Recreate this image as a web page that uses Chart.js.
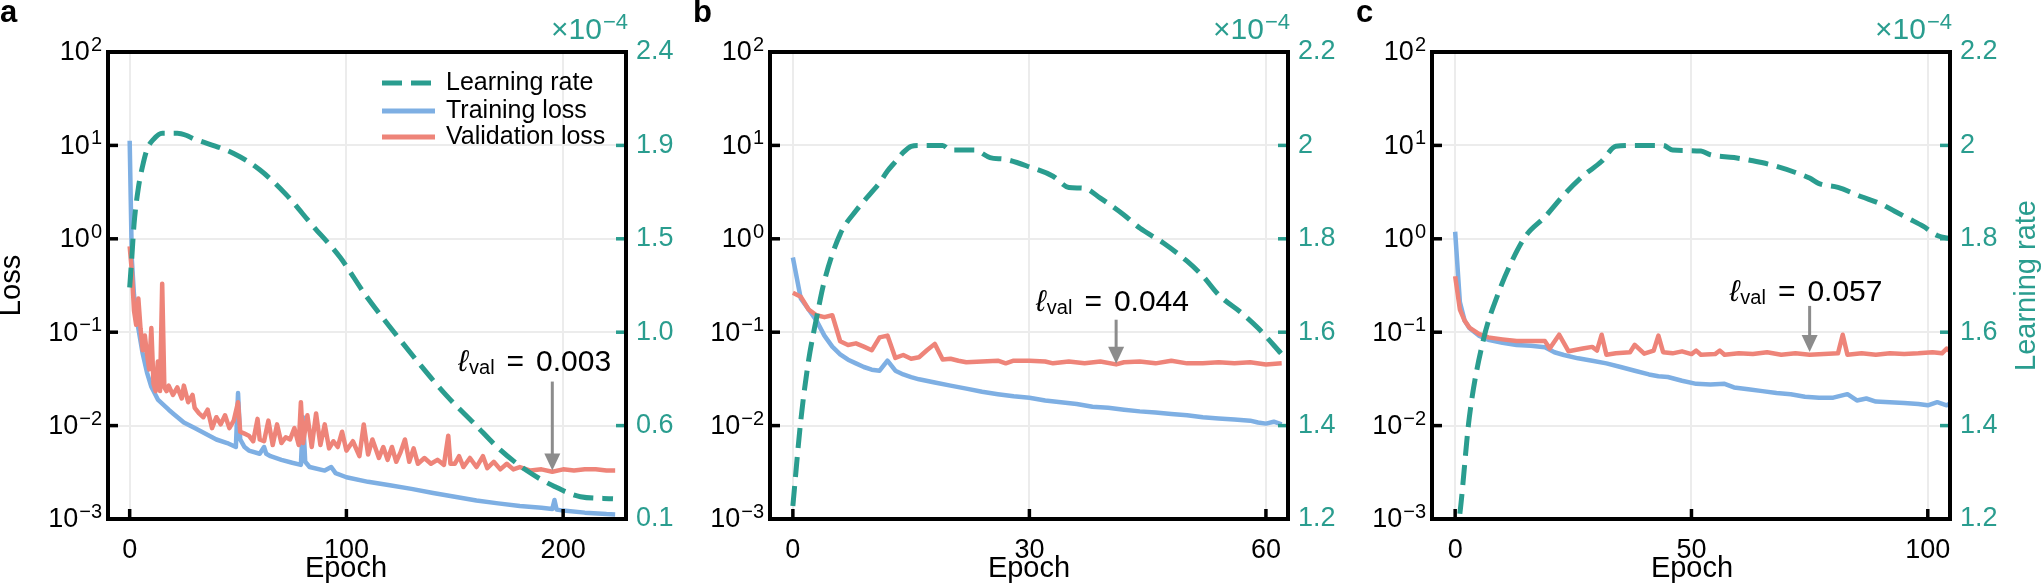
<!DOCTYPE html>
<html>
<head>
<meta charset="utf-8">
<script src="https://cdn.jsdelivr.net/npm/chart.js@4.4.0/dist/chart.umd.min.js"></script>
<style>
  html, body { margin: 0; padding: 0; background: #fff; }
  body { width: 2044px; height: 584px; position: relative; overflow: hidden; }
  canvas { position: absolute; top: 0; }
</style>
</head>
<body>
<canvas id="chart-a" width="700" height="584" style="left:0px"></canvas>
<canvas id="chart-b" width="700" height="584" style="left:662px"></canvas>
<canvas id="chart-c" width="720" height="584" style="left:1324px"></canvas>
<script>
const FONT = '"Liberation Sans", "DejaVu Sans", sans-serif';
const TEAL = "#2a9d8f";
const BLUE = "#7eafe3";
const RED = "#ee8479";
const GRID = "#ececec";
const ARROW = "#8c8c8c";

// ---- data (learning rate in units of 1e-4) ----
const lossTicks = [1e-3, 1e-2, 1e-1, 1, 10, 100];
const lossTickExps = ["\u22123", "\u22122", "\u22121", "0", "1", "2"];

// panel a
const xTicksA = [0, 100, 200];
const lrTicksA = [0.1, 0.56, 1.02, 1.48, 1.94, 2.4];
const lrTickLabelsA = ["0.1", "0.6", "1.0", "1.5", "1.9", "2.4"];
const epochsLrA = [0, 1, 2, 4, 6, 8, 11, 15, 18, 22, 26, 30, 33, 48, 60, 72, 84, 97, 109, 122, 134, 146, 159, 171, 183, 196, 208, 223];
const lrA = [1.24, 1.39, 1.55, 1.73, 1.84, 1.92, 1.97, 2.0, 2.0, 2.0, 1.99, 1.97, 1.96, 1.90, 1.82, 1.70, 1.55, 1.39, 1.20, 1.02, 0.86, 0.71, 0.57, 0.44, 0.34, 0.26, 0.21, 0.20];
const epochsTrainA = [0, 1, 2, 3, 4, 6, 8, 10, 13, 18, 20, 25, 30, 35, 40, 45, 49, 50, 51, 53, 55, 60, 62, 63, 65, 70, 75, 79, 80, 81, 83, 90, 93, 95, 100, 110, 120, 130, 140, 150, 160, 170, 180, 190, 195, 196, 197, 200, 210, 220, 224];
const trainA = [11.2, 0.6, 0.25, 0.15, 0.11, 0.059, 0.037, 0.026, 0.019, 0.0148, 0.0135, 0.0108, 0.0094, 0.0082, 0.0071, 0.0065, 0.0059, 0.0223, 0.0071, 0.0059, 0.0054, 0.0050, 0.0059, 0.0050, 0.0047, 0.0043, 0.0040, 0.0038, 0.0123, 0.0041, 0.0036, 0.0033, 0.0036, 0.0031, 0.0028, 0.0025, 0.0023, 0.0021, 0.0019, 0.00173, 0.00158, 0.00147, 0.00138, 0.00132, 0.00128, 0.0016, 0.00126, 0.00123, 0.00117, 0.00113, 0.00112];
const epochsValA = [0, 1, 2, 3, 4, 5, 6, 7, 8, 9, 10, 11, 12, 13, 14, 15, 16, 17, 18, 20, 22, 24, 25, 27, 29, 30, 32, 34, 36, 38, 40, 42, 44, 46, 48, 50, 51, 53, 55, 57, 59, 60, 62, 64, 66, 68, 70, 72, 74, 76, 78, 79, 80, 82, 84, 86, 88, 90, 92, 94, 96, 98, 100, 103, 106, 108, 110, 112, 115, 117, 119, 121, 123, 125, 127, 129, 131, 133, 136, 139, 142, 145, 147, 148, 150, 152, 154, 157, 160, 163, 165, 168, 171, 174, 177, 180, 185, 190, 195, 200, 205, 210, 215, 220, 224];
const valA = [0.83, 0.45, 0.17, 0.12, 0.23, 0.11, 0.064, 0.092, 0.058, 0.040, 0.111, 0.028, 0.0234, 0.0486, 0.0234, 0.331, 0.0256, 0.0234, 0.0268, 0.0213, 0.0256, 0.0195, 0.0268, 0.0178, 0.0213, 0.0155, 0.0135, 0.0123, 0.0148, 0.0094, 0.0123, 0.0103, 0.0129, 0.0094, 0.0113, 0.0178, 0.0086, 0.0082, 0.0078, 0.0068, 0.0118, 0.0071, 0.0068, 0.0113, 0.0062, 0.0103, 0.0065, 0.0075, 0.0071, 0.0094, 0.0062, 0.0178, 0.0065, 0.0129, 0.0059, 0.0135, 0.0062, 0.0103, 0.0057, 0.0068, 0.0059, 0.0086, 0.0054, 0.0068, 0.0047, 0.0103, 0.0049, 0.0071, 0.0045, 0.0059, 0.0043, 0.0059, 0.0041, 0.0052, 0.0071, 0.0041, 0.0057, 0.0039, 0.0045, 0.0039, 0.0043, 0.0038, 0.0078, 0.0039, 0.0039, 0.0047, 0.0036, 0.0045, 0.0036, 0.0047, 0.0035, 0.0041, 0.0034, 0.0039, 0.0034, 0.0036, 0.0033, 0.0034, 0.0032, 0.0034, 0.0033, 0.0034, 0.0034, 0.0033, 0.0033];

// panel b
const xTicksB = [0, 30, 60];
const lrTicksB = [1.2, 1.4, 1.6, 1.8, 2.0, 2.2];
const lrTickLabelsB = ["1.2", "1.4", "1.6", "1.8", "2", "2.2"];
const epochsLrB = [0, 1, 2, 3, 4, 6, 8, 10, 11, 12, 13, 14, 15, 16, 19, 20, 23, 25, 27, 30, 33, 35, 37, 39, 42, 44, 47, 50, 52, 54, 57, 59, 62];
const lrB = [1.228, 1.41, 1.54, 1.63, 1.71, 1.81, 1.86, 1.90, 1.92, 1.945, 1.965, 1.985, 1.998, 2.0, 2.0, 1.99, 1.99, 1.974, 1.97, 1.954, 1.934, 1.91, 1.908, 1.887, 1.851, 1.823, 1.791, 1.752, 1.72, 1.68, 1.64, 1.609, 1.553];
const epochsTrainB = [0, 1, 2, 3, 4, 5, 6, 7, 8, 9, 10, 11, 12, 13, 14, 15, 16, 18, 20, 22, 24, 26, 28, 30, 32, 34, 36, 38, 40, 42, 44, 46, 48, 50, 52, 54, 56, 58, 59, 60, 61, 62];
const trainB = [0.63, 0.23, 0.175, 0.133, 0.092, 0.070, 0.058, 0.0508, 0.0464, 0.0424, 0.0397, 0.0387, 0.0495, 0.0387, 0.0353, 0.0331, 0.0313, 0.0289, 0.0268, 0.0249, 0.0230, 0.0217, 0.0206, 0.0199, 0.0186, 0.0178, 0.0170, 0.0159, 0.0155, 0.0148, 0.0142, 0.0138, 0.0133, 0.0129, 0.0123, 0.0119, 0.0116, 0.0113, 0.0108, 0.0105, 0.0110, 0.0103];
const epochsValB = [0, 1, 2, 3, 4, 5, 6, 7, 8, 9, 10, 11, 12, 13, 14, 15, 16, 17, 18, 19, 20, 21, 22, 24, 26, 27, 28, 30, 32, 33, 35, 37, 39, 41, 42, 44, 46, 48, 50, 52, 54, 56, 58, 60, 62];
const valB = [0.264, 0.24, 0.175, 0.152, 0.145, 0.152, 0.080, 0.073, 0.076, 0.070, 0.064, 0.088, 0.092, 0.053, 0.057, 0.052, 0.054, 0.064, 0.075, 0.051, 0.052, 0.0495, 0.0477, 0.0486, 0.0495, 0.0464, 0.0495, 0.0495, 0.0486, 0.0464, 0.0486, 0.0464, 0.0486, 0.0452, 0.0477, 0.0486, 0.0464, 0.0495, 0.0464, 0.0464, 0.0477, 0.0464, 0.0477, 0.0452, 0.0464];

// panel c
const xTicksC = [0, 50, 100];
const lrTicksC = [1.2, 1.4, 1.6, 1.8, 2.0, 2.2];
const lrTickLabelsC = ["1.2", "1.4", "1.6", "1.8", "2", "2.2"];
const epochsLrC = [0, 1, 3, 6, 9, 12, 15, 19, 23, 27, 31, 34, 38, 44, 46, 52, 54, 59, 63, 67, 72, 75, 77, 81, 86, 90, 93, 96, 99, 102, 105];
const lrC = [1.15, 1.212, 1.418, 1.585, 1.680, 1.752, 1.807, 1.847, 1.894, 1.934, 1.966, 1.998, 2.0, 2.0, 1.99, 1.988, 1.98, 1.974, 1.967, 1.958, 1.942, 1.93, 1.918, 1.91, 1.89, 1.875, 1.859, 1.843, 1.827, 1.807, 1.80];
const epochsTrainC = [0, 1, 2, 3, 5, 7, 10, 13, 16, 19, 21, 23, 26, 29, 32, 35, 38, 41, 43, 45, 48, 51, 54, 57, 59, 62, 65, 68, 71, 74, 77, 80, 83, 85, 87, 89, 92, 95, 98, 100, 102, 104, 105];
const trainC = [1.19, 0.21, 0.133, 0.111, 0.092, 0.083, 0.077, 0.073, 0.0715, 0.069, 0.061, 0.057, 0.0525, 0.0495, 0.0464, 0.0424, 0.0387, 0.0353, 0.0337, 0.0331, 0.0302, 0.0280, 0.0275, 0.0280, 0.0256, 0.0245, 0.0234, 0.0223, 0.0217, 0.0204, 0.0199, 0.0199, 0.0217, 0.0186, 0.0195, 0.0181, 0.0178, 0.0175, 0.0170, 0.0165, 0.0178, 0.0165, 0.0175];
const epochsValC = [0, 1, 2, 3, 5, 7, 10, 13, 16, 19, 20, 22, 24, 27, 29, 30, 31, 32, 34, 37, 38, 40, 42, 43, 44, 46, 48, 50, 51, 52, 55, 56, 57, 60, 63, 66, 69, 72, 75, 78, 81, 82, 83, 86, 89, 92, 95, 98, 101, 103, 104, 105];
const valC = [0.397, 0.175, 0.133, 0.112, 0.096, 0.088, 0.0838, 0.0803, 0.0803, 0.0803, 0.0668, 0.094, 0.0624, 0.0668, 0.0696, 0.0636, 0.094, 0.0573, 0.0594, 0.0611, 0.0733, 0.0588, 0.0636, 0.092, 0.0611, 0.0594, 0.0624, 0.0583, 0.0636, 0.0573, 0.0583, 0.0636, 0.0573, 0.0594, 0.0583, 0.0611, 0.0573, 0.0594, 0.0573, 0.0583, 0.0594, 0.094, 0.0573, 0.0594, 0.0573, 0.0594, 0.0583, 0.0594, 0.0611, 0.0594, 0.0668, 0.0611];

function pairs(xs, ys) {
  return xs.map(function (x, i) {
    return { x: x, y: ys[i] };
  });
}

const panels = [
  {
    id: "chart-a", letter: "a", letterX: 0,
    xMin: -10, xMax: 229, xTicks: xTicksA,
    lrMin: 0.1, lrMax: 2.4, lrTicks: lrTicksA, lrTickLabels: lrTickLabelsA,
    lr: pairs(epochsLrA, lrA), train: pairs(epochsTrainA, trainA), val: pairs(epochsValA, valA),
    note: { epoch: 195, value: 0.0033, label: "0.003", len: 89, dx: -94, dy: -110 },
    epochX: 346, lossTitle: true, legend: true, lrTitle: false,
  },
  {
    id: "chart-b", letter: "b", letterX: 31,
    xMin: -2.9, xMax: 62.8, xTicks: xTicksB,
    lrMin: 1.2, lrMax: 2.2, lrTicks: lrTicksB, lrTickLabels: lrTickLabelsB,
    lr: pairs(epochsLrB, lrB), train: pairs(epochsTrainB, trainB), val: pairs(epochsValB, valB),
    note: { epoch: 41, value: 0.046, label: "0.044", len: 44, dx: -80, dy: -63 },
    epochX: 367, lossTitle: false, legend: false, lrTitle: false,
  },
  {
    id: "chart-c", letter: "c", letterX: 32,
    xMin: -4.9, xMax: 104.7, xTicks: xTicksC,
    lrMin: 1.2, lrMax: 2.2, lrTicks: lrTicksC, lrTickLabels: lrTickLabelsC,
    lr: pairs(epochsLrC, lrC), train: pairs(epochsTrainC, trainC), val: pairs(epochsValC, valC),
    note: { epoch: 75, value: 0.0615, label: "0.057", len: 46, dx: -80, dy: -61 },
    epochX: 368, lossTitle: false, legend: false, lrTitle: true,
  },
];

const AREA_LEFT = 108;
const AREA_RIGHT = 626;
const AREA_TOP = 52;
const AREA_BOTTOM = 519;
const TICK = 10;

function hline(ctx, x1, y1, x2, y2) {
  ctx.beginPath();
  ctx.moveTo(x1, y1);
  ctx.lineTo(x2, y2);
  ctx.stroke();
}

function drawPower(ctx, xRight, yMid, base, exp, color, baseSize, expSize) {
  ctx.fillStyle = color;
  ctx.textAlign = "right";
  ctx.textBaseline = "alphabetic";
  ctx.font = expSize + "px " + FONT;
  ctx.fillText(exp, xRight, yMid - 1);
  const w = ctx.measureText(exp).width;
  ctx.font = baseSize + "px " + FONT;
  ctx.textBaseline = "middle";
  ctx.fillText(base, xRight - w - 1, yMid + 1);
}

function drawNote(ctx, chart, note) {
  const x = chart.scales.x.getPixelForValue(note.epoch);
  const tip = chart.scales.y.getPixelForValue(note.value);
  ctx.strokeStyle = ARROW;
  ctx.fillStyle = ARROW;
  ctx.lineWidth = 3;
  hline(ctx, x, tip - note.len, x, tip - 14);
  ctx.beginPath();
  ctx.moveTo(x - 8, tip - 17);
  ctx.lineTo(x + 8, tip - 17);
  ctx.lineTo(x, tip);
  ctx.closePath();
  ctx.fill();

  const ty = tip + note.dy + 10;
  let cx = x + note.dx;
  ctx.fillStyle = "#000";
  ctx.textAlign = "left";
  ctx.textBaseline = "alphabetic";
  ctx.font = "italic 30px " + FONT;
  ctx.fillText("\u2113", cx, ty);
  cx += ctx.measureText("\u2113").width + 1;
  ctx.font = "20px " + FONT;
  ctx.fillText("val", cx, ty + 3);
  cx += ctx.measureText("val").width + 12;
  ctx.font = "30px " + FONT;
  ctx.fillText("=", cx, ty);
  cx += ctx.measureText("=").width + 12;
  ctx.fillText(note.label, cx, ty);
}

function drawLegend(ctx) {
  const rows = [
    { label: "Learning rate", color: TEAL, dash: [20, 9], y: 83 },
    { label: "Training loss", color: BLUE, dash: [], y: 111 },
    { label: "Validation loss", color: RED, dash: [], y: 137 },
  ];
  rows.forEach(function (row) {
    ctx.strokeStyle = row.color;
    ctx.lineWidth = 5;
    ctx.setLineDash(row.dash);
    hline(ctx, 382, row.y, 435, row.y);
    ctx.setLineDash([]);
    ctx.fillStyle = "#000";
    ctx.font = "25px " + FONT;
    ctx.textAlign = "left";
    ctx.textBaseline = "middle";
    ctx.fillText(row.label, 446, row.y);
  });
}

function decor(p) {
  return {
    id: "decor",
    afterDraw: function (chart) {
      const ctx = chart.ctx;
      const a = chart.chartArea;
      const xS = chart.scales.x;
      const yS = chart.scales.y;
      const rS = chart.scales.y1;
      ctx.save();
      ctx.lineCap = "butt";

      // inward tick marks
      ctx.strokeStyle = "#000";
      ctx.lineWidth = 3.5;
      lossTicks.forEach(function (v) {
        const py = yS.getPixelForValue(v);
        hline(ctx, a.left, py, a.left + TICK, py);
      });
      p.xTicks.forEach(function (v) {
        const px = xS.getPixelForValue(v);
        hline(ctx, px, a.bottom, px, a.bottom - TICK);
      });
      ctx.strokeStyle = TEAL;
      p.lrTicks.forEach(function (v) {
        const py = rS.getPixelForValue(v);
        hline(ctx, a.right - TICK, py, a.right, py);
      });

      // frame
      ctx.strokeStyle = "#000";
      ctx.lineWidth = 4;
      ctx.strokeRect(a.left, a.top, a.right - a.left, a.bottom - a.top);

      // log tick labels with superscripts
      lossTicks.forEach(function (v, i) {
        drawPower(ctx, a.left - 6, yS.getPixelForValue(v), "10", lossTickExps[i], "#000", 27, 20);
      });

      // offset text of the learning-rate axis
      drawPower(ctx, a.right + 2, 30, "\u00d710", "\u22124", TEAL, 30, 22);

      // axis titles
      ctx.fillStyle = "#000";
      ctx.font = "29px " + FONT;
      ctx.textAlign = "center";
      ctx.textBaseline = "middle";
      ctx.fillText("Epoch", p.epochX, 569);
      if (p.lossTitle) {
        ctx.save();
        ctx.translate(12, (a.top + a.bottom) / 2);
        ctx.rotate(-Math.PI / 2);
        ctx.fillText("Loss", 0, 0);
        ctx.restore();
      }
      if (p.lrTitle) {
        ctx.save();
        ctx.fillStyle = TEAL;
        ctx.translate(a.right + 77, (a.top + a.bottom) / 2);
        ctx.rotate(-Math.PI / 2);
        ctx.fillText("Learning rate", 0, 0);
        ctx.restore();
      }

      // panel letter
      ctx.fillStyle = "#000";
      ctx.font = "bold 31px " + FONT;
      ctx.textAlign = "left";
      ctx.textBaseline = "alphabetic";
      ctx.fillText(p.letter, p.letterX, 22);

      drawNote(ctx, chart, p.note);
      if (p.legend) {
        drawLegend(ctx);
      }
      ctx.restore();
    },
  };
}

panels.forEach(function (p) {
  const canvas = document.getElementById(p.id);
  const canvasWidth = canvas.width;
  new Chart(canvas, {
    type: "line",
    data: {
      datasets: [
        {
          label: "Learning rate",
          data: p.lr,
          yAxisID: "y1",
          borderColor: TEAL,
          borderWidth: 5,
          borderDash: [20, 9],
          borderCapStyle: "butt",
          cubicInterpolationMode: "monotone",
          pointRadius: 0,
        },
        {
          label: "Validation loss",
          data: p.val,
          yAxisID: "y",
          borderColor: RED,
          borderWidth: 4.5,
          borderJoinStyle: "round",
          pointRadius: 0,
        },
        {
          label: "Training loss",
          data: p.train,
          yAxisID: "y",
          borderColor: BLUE,
          borderWidth: 4.5,
          borderJoinStyle: "round",
          pointRadius: 0,
        },
      ],
    },
    options: {
      responsive: false,
      animation: false,
      events: [],
      layout: { padding: { top: AREA_TOP, left: 0, right: 0, bottom: 0 } },
      plugins: {
        legend: { display: false },
        tooltip: { enabled: false },
      },
      scales: {
        x: {
          type: "linear",
          min: p.xMin,
          max: p.xMax,
          afterBuildTicks: function (scale) {
            scale.ticks = p.xTicks.map(function (v) { return { value: v }; });
          },
          afterFit: function (scale) {
            scale.height = 584 - AREA_BOTTOM;
          },
          grid: { color: GRID, lineWidth: 2, drawTicks: false },
          border: { display: false },
          ticks: {
            color: "#000",
            font: { family: FONT, size: 27 },
            padding: 15,
            maxRotation: 0,
            autoSkip: false,
            callback: function (v) { return String(v); },
          },
        },
        y: {
          type: "logarithmic",
          position: "left",
          min: 1e-3,
          max: 1e2,
          afterBuildTicks: function (scale) {
            scale.ticks = lossTicks.map(function (v) { return { value: v }; });
          },
          afterFit: function (scale) {
            scale.width = AREA_LEFT;
          },
          grid: { color: GRID, lineWidth: 2, drawTicks: false },
          border: { display: false },
          ticks: { display: false },
        },
        y1: {
          type: "linear",
          position: "right",
          min: p.lrMin,
          max: p.lrMax,
          afterBuildTicks: function (scale) {
            scale.ticks = p.lrTicks.map(function (v) { return { value: v }; });
          },
          afterFit: function (scale) {
            scale.width = canvasWidth - AREA_RIGHT;
          },
          grid: { display: false, drawTicks: false },
          border: { display: false },
          ticks: {
            color: TEAL,
            font: { family: FONT, size: 27 },
            padding: 10,
            callback: function (v, i) { return p.lrTickLabels[i]; },
          },
        },
      },
    },
    plugins: [decor(p)],
  });
});
</script>
</body>
</html>
